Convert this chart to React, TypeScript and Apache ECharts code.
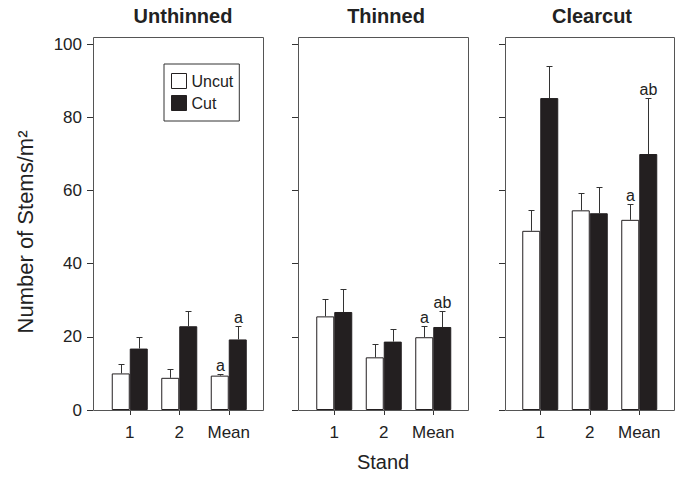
import React, { useEffect, useRef } from "react";
import * as echarts from "echarts";

const categories = ["1", "2", "Mean"];
const panelTitles = ["Unthinned", "Thinned", "Clearcut"];
const uncutValues = [
  [10, 8.8, 9.4],
  [25.6, 14.4, 19.9],
  [49, 54.6, 52],
];
const uncutErrors = [
  [2.5, 2.4, 0.4],
  [4.7, 3.6, 3.2],
  [5.7, 4.8, 4.2],
];
const cutValues = [
  [16.8, 22.9, 19.3],
  [26.8, 18.7, 22.7],
  [85.3, 53.8, 70.0],
];
const cutErrors = [
  [3.1, 4.1, 3.6],
  [6.4, 3.4, 4.3],
  [8.9, 7.1, 15.3],
];
const uncutSig = [
  ["", "", "a"],
  ["", "", "a"],
  ["", "", "a"],
];
const cutSig = [
  ["", "", "a"],
  ["", "", "ab"],
  ["", "", "ab"],
];
const yTicks = [0, 20, 40, 60, 80, 100];

const FONT = '"Liberation Sans", Arial, Helvetica, sans-serif';
const DARK = "#231f20";
const TEXT = "#222";

const panelLeft = [93, 298, 505];
const panelWidth = [170, 170, 169];
const gridLeft = [105, 309.5, 515.5];
const gridWidth = 148.5;
const gridTop = 37;
const gridHeight = 373;
const barWidth = 18;
const titleX = [183, 386, 592];

function errorSeries(p: number, values: number[], errors: number[], sig: string[], offset: number) {
  return {
    type: "custom",
    xAxisIndex: p,
    yAxisIndex: p,
    z: 5,
    silent: true,
    encode: { x: 0, y: [1, 2] },
    data: values.map((v, i) => [i, v, v + errors[i]]),
    renderItem: (params: any, api: any) => {
      const idx = api.value(0);
      const val = api.value(1);
      const top = api.value(2);
      const base = api.coord([idx, val]);
      const tp = api.coord([idx, top]);
      const x = Math.round(base[0] + offset) + 0.5;
      const yt = Math.round(tp[1]) + 0.5;
      const children: any[] = [
        {
          type: "line",
          shape: { x1: x, y1: base[1], x2: x, y2: yt },
          style: { stroke: "#333", lineWidth: 1 },
        },
        {
          type: "line",
          shape: { x1: x - 3, y1: yt, x2: x + 3, y2: yt },
          style: { stroke: "#333", lineWidth: 1 },
        },
      ];
      const label = sig[params.dataIndex];
      if (label) {
        children.push({
          type: "text",
          x: x,
          y: yt - 1,
          style: {
            text: label,
            fontSize: 16,
            fontFamily: FONT,
            fill: TEXT,
            align: "center",
            verticalAlign: "bottom",
            textAlign: "center",
            textVerticalAlign: "bottom",
          },
        });
      }
      return { type: "group", children };
    },
  };
}

export default function App() {
  const ref = useRef<HTMLDivElement>(null);
  useEffect(() => {
    if (!ref.current) return;
    const chart = echarts.init(ref.current, null, { renderer: "svg" });
    const grids: any[] = [];
    const xAxes: any[] = [];
    const yAxes: any[] = [];
    const series: any[] = [];
    const graphics: any[] = [];
    for (let p = 0; p < 3; p++) {
      grids.push({ left: gridLeft[p], top: gridTop, width: gridWidth, height: gridHeight });
      xAxes.push({
        type: "category",
        gridIndex: p,
        data: categories,
        axisLine: { show: false },
        axisTick: { show: true, alignWithLabel: true, interval: 0, length: 5, lineStyle: { color: "#333" } },
        axisLabel: { interval: 0, hideOverlap: false, fontSize: 17, fontFamily: FONT, color: TEXT, margin: 14 },
      });
      yAxes.push({
        type: "value",
        gridIndex: p,
        min: 0,
        max: 102,
        interval: 20,
        offset: gridLeft[p] - panelLeft[p],
        axisLine: { show: false },
        splitLine: { show: false },
        axisTick: {
          show: true,
          length: 6,
          customValues: yTicks,
          lineStyle: { color: "#333" },
        },
        axisLabel: {
          show: p === 0,
          customValues: yTicks,
          fontSize: 17,
          fontFamily: FONT,
          color: TEXT,
          margin: 11,
        },
      });
      series.push({
        type: "bar",
        name: "Uncut",
        xAxisIndex: p,
        yAxisIndex: p,
        barWidth,
        barGap: "0%",
        data: uncutValues[p],
        itemStyle: { color: "#fff", borderColor: DARK, borderWidth: 1 },
      });
      series.push({
        type: "bar",
        name: "Cut",
        xAxisIndex: p,
        yAxisIndex: p,
        barWidth,
        barGap: "0%",
        data: cutValues[p],
        itemStyle: { color: DARK, borderColor: DARK, borderWidth: 1 },
      });
      series.push(errorSeries(p, uncutValues[p], uncutErrors[p], uncutSig[p], -barWidth / 2));
      series.push(errorSeries(p, cutValues[p], cutErrors[p], cutSig[p], barWidth / 2));
      graphics.push({
        type: "rect",
        z: 10,
        silent: true,
        shape: { x: panelLeft[p] + 0.5, y: gridTop + 0.5, width: panelWidth[p], height: gridHeight },
        style: { fill: "none", stroke: "#555", lineWidth: 1 },
      });
      graphics.push({
        type: "text",
        x: titleX[p],
        y: 16,
        style: {
          text: panelTitles[p],
          fontSize: 20,
          fontWeight: "bold",
          fontFamily: FONT,
          fill: TEXT,
          align: "center",
          verticalAlign: "middle",
          textAlign: "center",
          textVerticalAlign: "middle",
        },
      });
    }
    graphics.push({
      type: "text",
      x: 25,
      y: 232,
      rotation: Math.PI / 2,
      style: {
        text: "Number of Stems/m²",
        fontSize: 22,
        fontFamily: FONT,
        fill: TEXT,
        align: "center",
        verticalAlign: "middle",
        textAlign: "center",
        textVerticalAlign: "middle",
      },
    });
    graphics.push({
      type: "text",
      x: 383,
      y: 462,
      style: {
        text: "Stand",
        fontSize: 20,
        fontFamily: FONT,
        fill: TEXT,
        align: "center",
        verticalAlign: "middle",
        textAlign: "center",
        textVerticalAlign: "middle",
      },
    });
    chart.setOption({
      animation: false,
      backgroundColor: "#fff",
      textStyle: { fontFamily: FONT },
      grid: grids,
      xAxis: xAxes,
      yAxis: yAxes,
      series,
      graphic: graphics,
      legend: {
        orient: "vertical",
        left: 164,
        top: 64,
        padding: [9, 6, 10, 7],
        itemWidth: 15,
        itemHeight: 15,
        itemGap: 6,
        itemTextGap: 4,
        borderColor: "#333",
        borderWidth: 1,
        backgroundColor: "#fff",
        selectedMode: false,
        textStyle: { fontSize: 16, fontFamily: FONT, color: TEXT },
        data: [
          { name: "Uncut", icon: "rect", itemStyle: { color: "#fff", borderColor: DARK, borderWidth: 1 } },
          { name: "Cut", icon: "rect", itemStyle: { color: DARK, borderColor: DARK, borderWidth: 1 } },
        ],
      },
    });
    return () => chart.dispose();
  }, []);
  return (
    <div
      ref={ref}
      style={{ position: "fixed", left: 0, top: 0, width: 678, height: 484 }}
    />
  );
}
